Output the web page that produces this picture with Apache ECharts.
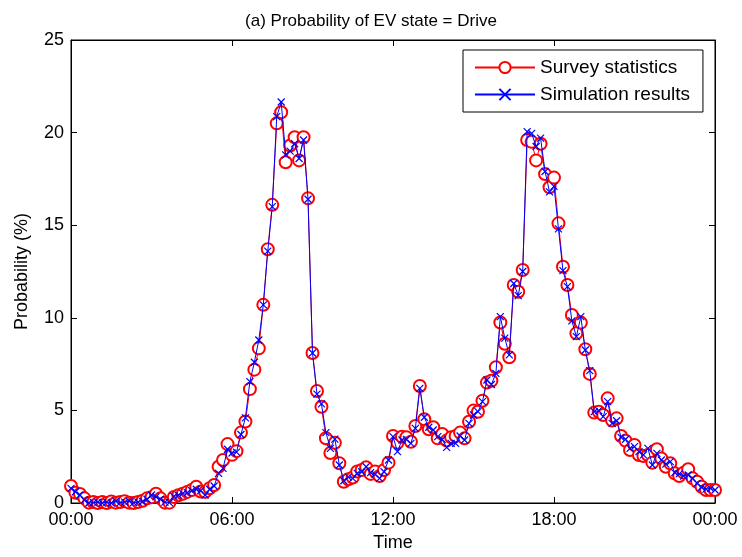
<!DOCTYPE html>
<html>
<head>
<meta charset="utf-8">
<script src="https://cdn.jsdelivr.net/npm/echarts@6/dist/echarts.min.js"></script>
<style>
html,body{margin:0;padding:0;background:#fff;}
#main{width:742px;height:557px;}
</style>
</head>
<body>
<div id="main"></div>
<script>
// time step in minutes (10-minute resolution, 00:00 .. 24:00)
var stepMinutes = 10;
var xTicks = ['00:00','06:00','12:00','18:00','00:00'];

var surveyStatistics = [
0.92,0.56,0.49,0.25,0.02,0.05,0.00,0.05,0.00,0.08,
0.02,0.05,0.10,0.02,0.00,0.05,0.12,0.25,0.31,0.50,
0.25,0.02,0.02,0.32,0.42,0.50,0.60,0.70,0.88,0.62,
0.60,0.80,0.97,1.96,2.32,3.18,2.60,2.80,3.80,4.40,
6.15,7.20,8.35,10.70,13.70,16.10,20.50,21.10,18.40,19.30,
19.75,18.50,19.75,16.45,8.10,6.05,5.20,3.50,2.70,3.25,
2.15,1.15,1.28,1.38,1.70,1.78,1.93,1.57,1.70,1.46,
1.78,2.18,3.62,3.25,3.58,3.55,3.31,4.16,6.32,4.52,
3.98,4.09,3.49,3.73,3.37,3.55,3.62,3.80,3.49,4.39,
4.99,4.93,5.52,6.50,6.60,7.33,9.75,8.60,7.87,11.77,
11.41,12.58,19.60,19.50,18.50,19.40,17.76,17.05,17.57,15.10,
12.76,11.77,10.15,9.16,9.74,8.30,6.97,4.88,4.93,4.75,
5.65,4.45,4.57,3.62,3.36,2.86,3.13,2.59,2.54,2.59,
2.18,2.90,2.40,1.96,2.14,1.60,1.46,1.64,1.82,1.33,
1.15,0.88,0.70,0.70,0.70
];

var simulationResults = [
0.79,0.61,0.43,0.16,0.00,0.02,0.05,0.00,0.05,0.00,
0.10,0.02,0.05,0.10,0.02,0.05,0.08,0.20,0.43,0.34,
0.20,0.05,0.02,0.36,0.42,0.52,0.56,0.66,0.74,0.66,
0.43,0.74,0.92,1.60,1.87,2.90,2.70,2.75,3.70,4.60,
6.55,7.60,8.80,10.70,13.60,16.00,20.86,21.65,18.80,19.00,
19.40,18.60,19.60,16.40,8.10,5.88,5.35,3.80,2.95,3.45,
2.05,1.20,1.40,1.33,1.60,1.69,1.96,1.64,1.55,1.33,
1.69,2.32,3.58,2.77,3.40,3.43,3.22,4.03,6.19,4.63,
4.09,3.94,3.58,3.43,3.00,3.22,3.22,3.62,3.40,4.30,
4.75,4.93,5.47,6.64,6.40,7.00,10.06,8.90,8.00,11.85,
11.20,12.50,20.05,19.96,19.25,19.70,17.90,16.80,17.10,14.80,
12.55,11.68,9.83,8.98,10.06,8.26,7.15,4.93,4.99,4.66,
5.47,4.30,4.44,3.54,3.44,2.95,3.04,2.77,2.60,2.95,
2.05,2.68,2.32,2.10,2.23,1.64,1.57,1.46,1.51,1.33,
1.06,0.85,0.75,0.79,0.70
];

function toPairs(arr){
  return arr.map(function(v,i){ return [i*stepMinutes, v]; });
}

var FONT = '"Liberation Sans", Arial, Helvetica, sans-serif';
var chart = echarts.init(document.getElementById('main'), null, {renderer:'canvas'});

function tick(){ return {show:true, inside:true, length:6, lineStyle:{color:'#000', width:1}}; }
function axLine(){ return {show:true, onZero:false, lineStyle:{color:'#000', width:1}}; }

chart.setOption({
  animation:false,
  backgroundColor:'#ffffff',
  title:{
    text:'(a) Probability of EV state = Drive',
    left:'center', top:8,
    textStyle:{fontFamily:FONT, fontSize:17, fontWeight:'normal', color:'#000'}
  },
  legend:{
    orient:'vertical',
    left:463, top:50,
    padding:[8,13,8,11],
    itemGap:8,
    itemWidth:60, itemHeight:14,
    backgroundColor:'#fff',
    borderColor:'#000', borderWidth:1,
    textStyle:{fontFamily:FONT, fontSize:19, color:'#000'},
    data:['Survey statistics','Simulation results']
  },
  grid:{left:71, right:27, top:40, bottom:54, show:true, borderColor:'#000', borderWidth:1, backgroundColor:'#fff'},
  xAxis:[{
    type:'value', min:0, max:1440, interval:360, position:'bottom',
    name:'Time', nameLocation:'middle', nameGap:30,
    nameTextStyle:{fontFamily:FONT, fontSize:18, color:'#000'},
    axisLine:axLine(), axisTick:tick(), splitLine:{show:false},
    axisLabel:{fontFamily:FONT, fontSize:18, color:'#000', margin:8,
      formatter:function(v){ return xTicks[Math.round(v/360)]; }}
  },{
    type:'value', min:0, max:1440, interval:360, position:'top',
    axisLine:axLine(), axisTick:tick(), axisLabel:{show:false}, splitLine:{show:false}
  }],
  yAxis:[{
    type:'value', min:0, max:25, interval:5, position:'left',
    name:'Probability (%)', nameLocation:'middle', nameGap:40,
    nameTextStyle:{fontFamily:FONT, fontSize:18, color:'#000'},
    axisLine:axLine(), axisTick:tick(), splitLine:{show:false},
    axisLabel:{fontFamily:FONT, fontSize:18, color:'#000', margin:7}
  },{
    type:'value', min:0, max:25, interval:5, position:'right',
    axisLine:axLine(), axisTick:tick(), axisLabel:{show:false}, splitLine:{show:false}
  }],
  series:[{
    name:'Survey statistics', type:'line',
    data:toPairs(surveyStatistics),
    showSymbol:true, showAllSymbol:true,
    symbol:'emptyCircle', symbolSize:12,
    itemStyle:{color:'#ff0000', borderColor:'#ff0000', borderWidth:1},
    lineStyle:{color:'#ff0000', width:1},
    emphasis:{disabled:true}, z:2
  },{
    name:'Simulation results', type:'line',
    data:toPairs(simulationResults),
    showSymbol:true, showAllSymbol:true,
    symbol:'path://M0,0L10,10M10,0L0,10', symbolSize:7,
    itemStyle:{color:'#0000ff', borderColor:'#0000ff', borderWidth:1.2},
    lineStyle:{color:'#0000ff', width:1},
    emphasis:{disabled:true}, z:3
  }]
});
</script>
</body>
</html>
